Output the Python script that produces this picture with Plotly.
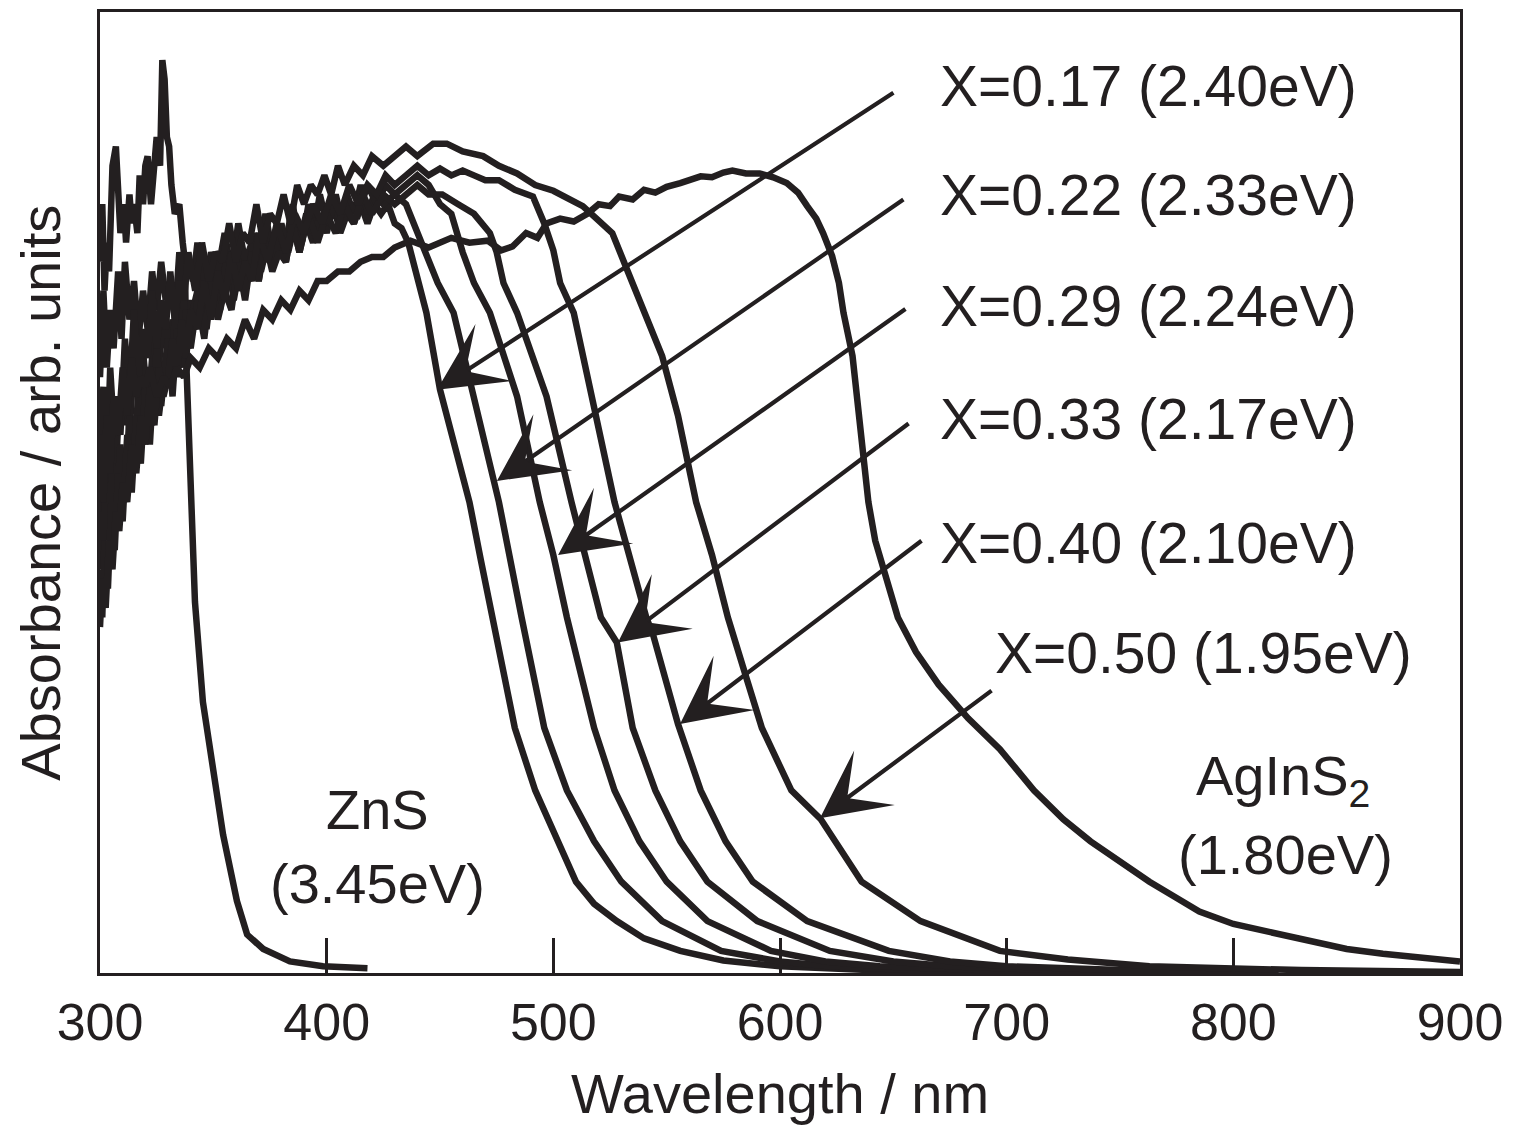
import plotly.graph_objects as go

INK = "#231f20"
FONT = "Liberation Sans, Arial, Helvetica, sans-serif"

# ---------------- data (wavelength nm, absorbance arb. units) ----------------
zns_x = [300, 301, 302, 303, 304, 305.5, 307, 308, 309, 310.5, 311.5, 313, 314, 315, 316.5, 317.5, 319, 320, 321, 322.5,
         323.5, 325, 326.5, 327.5, 328.5, 329.5, 330.5, 331.5, 333, 335, 336.5, 337.5,
         338, 339, 340, 341.9, 345.4, 349.9, 354.3, 360.4, 364.9, 372, 383.8, 398.4, 418]
zns_y = [0.74, 0.80, 0.71, 0.76, 0.73, 0.84, 0.86, 0.79, 0.77, 0.80, 0.76, 0.81, 0.78, 0.80, 0.77, 0.83, 0.80, 0.84, 0.85, 0.80,
         0.83, 0.87, 0.84, 0.95, 0.93, 0.87, 0.86, 0.82, 0.79, 0.80, 0.76, 0.74,
         0.64, 0.57, 0.49, 0.386, 0.282, 0.213, 0.144, 0.075, 0.040, 0.025, 0.012, 0.007, 0.005]

x017_x = [300, 301, 302.5, 304, 305, 307, 308.5, 310, 311.5, 313, 315, 317, 318.5, 320, 322, 324, 326, 328, 330, 332,
          334, 336, 338, 340, 342, 344, 346, 348, 350, 352, 355, 357, 360, 362, 365, 368, 370, 373, 376, 379,
          382, 385, 388, 391, 394, 397, 400, 403, 406, 409, 412, 415, 418, 421, 424, 427, 430, 433, 436, 441,
          444, 450, 455, 463, 468, 473, 478, 483, 492, 502, 510, 518, 528, 540, 556, 575, 600, 640, 700]
x017_y = [0.52, 0.46, 0.55, 0.49, 0.58, 0.52, 0.60, 0.57, 0.63, 0.56, 0.64, 0.60, 0.66, 0.62, 0.61, 0.67, 0.63, 0.69, 0.64, 0.68,
          0.66, 0.71, 0.67, 0.70, 0.68, 0.73, 0.69, 0.72, 0.70, 0.75, 0.71, 0.74, 0.72, 0.76, 0.73, 0.75, 0.72, 0.77, 0.74, 0.76,
          0.74, 0.78, 0.75, 0.78, 0.76, 0.79, 0.77, 0.80, 0.77, 0.79, 0.78, 0.80, 0.78, 0.80, 0.79, 0.80, 0.78, 0.775, 0.76, 0.718,
          0.687, 0.607, 0.56, 0.49, 0.43, 0.37, 0.31, 0.255, 0.19, 0.137, 0.095, 0.072, 0.054, 0.036, 0.023, 0.013, 0.007, 0.003, 0.001]

x022_x = [300, 301.5, 303, 304.5, 306, 308, 309.5, 311, 313, 315, 317, 319, 321, 323, 325, 327, 329, 331, 333, 335,
          337, 339, 341, 343, 346, 349, 352, 355, 358, 361, 364, 367, 370, 373, 376, 379, 382, 385, 388, 391,
          394, 397, 400, 403, 406, 409, 412, 415, 418, 421, 425, 430, 435, 440, 444, 449, 456, 465,
          476, 486, 496, 506, 518, 530, 548, 574, 600, 622, 660, 720]
x022_y = [0.62, 0.71, 0.63, 0.69, 0.65, 0.73, 0.66, 0.74, 0.68, 0.72, 0.66, 0.71, 0.67, 0.73, 0.69, 0.74, 0.70, 0.72, 0.68, 0.75,
          0.71, 0.74, 0.72, 0.76, 0.71, 0.75, 0.73, 0.77, 0.73, 0.78, 0.74, 0.76, 0.74, 0.79, 0.75, 0.77, 0.76, 0.80, 0.76, 0.79,
          0.77, 0.81, 0.78, 0.80, 0.78, 0.81, 0.79, 0.82, 0.79, 0.81, 0.80, 0.81, 0.80, 0.77, 0.75, 0.718, 0.687, 0.60,
          0.49, 0.37, 0.255, 0.19, 0.137, 0.095, 0.054, 0.023, 0.012, 0.007, 0.003, 0.001]

x029_x = [300, 301, 302.5, 304, 305.5, 307, 309, 311, 313, 315, 317, 319, 321, 323, 325, 327, 329, 331, 333, 335,
          337, 339, 341, 344, 347, 350, 353, 356, 359, 362, 365, 368, 371, 374, 377, 380, 383, 386, 389, 392,
          395, 398, 401, 404, 407, 410, 414, 418, 422, 426, 430, 435, 440, 445, 450, 455,
          460, 465, 472, 484, 494, 500, 506, 518, 527, 538, 550, 568, 596, 620, 644, 690, 760]
x029_y = [0.48, 0.42, 0.51, 0.45, 0.53, 0.47, 0.55, 0.50, 0.58, 0.53, 0.61, 0.55, 0.60, 0.57, 0.65, 0.59, 0.64, 0.62, 0.68, 0.63,
          0.70, 0.65, 0.69, 0.72, 0.67, 0.73, 0.69, 0.75, 0.70, 0.74, 0.72, 0.77, 0.73, 0.76, 0.74, 0.78, 0.75, 0.78, 0.76, 0.80,
          0.77, 0.79, 0.78, 0.81, 0.78, 0.80, 0.79, 0.82, 0.80, 0.82, 0.81, 0.82, 0.83, 0.82, 0.80, 0.79,
          0.75, 0.718, 0.687, 0.60, 0.49, 0.435, 0.37, 0.255, 0.19, 0.137, 0.095, 0.054, 0.023, 0.012, 0.007, 0.003, 0.001]

x033_x = [300, 301, 302, 303.5, 305, 306.5, 308, 310, 312, 314, 316, 318, 320, 322, 324, 326, 328, 330, 332, 334,
          336, 338, 340, 343, 346, 349, 352, 355, 358, 361, 364, 367, 370, 373, 376, 379, 382, 385, 388, 392,
          396, 400, 404, 408, 412, 416, 420, 425, 430, 435, 440, 445, 451, 458,
          465, 472, 475, 478, 484, 497, 508, 521, 528, 535, 545, 556, 568, 590, 622, 650, 675, 720, 790]
x033_y = [0.42, 0.37, 0.45, 0.40, 0.49, 0.44, 0.52, 0.47, 0.56, 0.50, 0.58, 0.53, 0.61, 0.55, 0.63, 0.58, 0.62, 0.66, 0.60, 0.67,
          0.63, 0.69, 0.65, 0.70, 0.66, 0.72, 0.68, 0.71, 0.69, 0.74, 0.70, 0.75, 0.72, 0.76, 0.73, 0.75, 0.74, 0.78, 0.75, 0.79,
          0.76, 0.79, 0.77, 0.80, 0.78, 0.81, 0.79, 0.81, 0.80, 0.81, 0.82, 0.81, 0.81, 0.80,
          0.79, 0.77, 0.75, 0.718, 0.687, 0.60, 0.49, 0.37, 0.344, 0.255, 0.19, 0.137, 0.095, 0.054, 0.023, 0.012, 0.007, 0.003, 0.001]

x040_x = [300, 301, 302.5, 304, 305.5, 307, 308.5, 310, 312, 314, 316, 318, 320, 322, 324, 326, 328, 330, 332, 334,
          336, 338, 340, 343, 346, 349, 352, 355, 358, 361, 364, 367, 370, 374, 378, 382, 386, 390, 394, 398,
          402, 406, 410, 414, 418, 422, 426, 430, 435, 440, 445, 450, 455,
          460, 465, 470, 476, 483, 491, 496, 500, 503, 509, 517, 527, 541, 544, 555, 565, 576, 588, 612, 648,
          675, 700, 750, 820]
x040_y = [0.36, 0.41, 0.38, 0.45, 0.42, 0.48, 0.46, 0.51, 0.49, 0.55, 0.52, 0.58, 0.55, 0.61, 0.57, 0.63, 0.60, 0.62, 0.66, 0.62,
          0.68, 0.64, 0.69, 0.67, 0.72, 0.68, 0.73, 0.70, 0.75, 0.71, 0.74, 0.72, 0.77, 0.74, 0.78, 0.75, 0.79, 0.77, 0.80, 0.78,
          0.81, 0.79, 0.82, 0.80, 0.82, 0.81, 0.83, 0.82, 0.83, 0.84, 0.83, 0.837, 0.83,
          0.835, 0.83, 0.825, 0.825, 0.815, 0.808, 0.78, 0.752, 0.718, 0.687, 0.60, 0.49, 0.37, 0.352, 0.259, 0.19, 0.137, 0.095, 0.054, 0.023,
          0.012, 0.007, 0.003, 0.001]

x050_x = [300, 301.5, 303, 304.5, 306, 307.5, 309, 311, 313, 315, 317, 319, 321, 323, 325, 327, 329, 331, 333, 335,
          337, 339, 342, 345, 348, 351, 354, 357, 360, 363, 366, 369, 372, 375, 378, 381, 384, 387, 390, 393,
          396, 399, 402, 405, 408, 412, 416, 420, 425, 430, 435, 440, 447, 453, 460,
          469, 476, 484, 492, 500, 507, 513, 520, 526, 532, 540, 548, 555, 563, 570, 577, 584, 592, 605, 618,
          636, 662, 697, 727, 763, 830, 900]
x050_y = [0.55, 0.61, 0.52, 0.63, 0.57, 0.60, 0.56, 0.66, 0.60, 0.69, 0.62, 0.67, 0.64, 0.71, 0.65, 0.70, 0.67, 0.73, 0.68, 0.72,
          0.70, 0.75, 0.71, 0.76, 0.72, 0.75, 0.74, 0.78, 0.74, 0.77, 0.76, 0.80, 0.76, 0.79, 0.78, 0.81, 0.78, 0.82, 0.80, 0.82,
          0.81, 0.83, 0.81, 0.84, 0.82, 0.84, 0.83, 0.85, 0.84, 0.85, 0.86, 0.85, 0.863, 0.863, 0.855,
          0.85, 0.84, 0.832, 0.82, 0.814, 0.805, 0.798, 0.783, 0.77, 0.735, 0.687, 0.642, 0.58, 0.49, 0.435, 0.37, 0.316, 0.255, 0.19, 0.16,
          0.095, 0.054, 0.023, 0.014, 0.007, 0.003, 0.001]

agins_x = [300, 301.5, 303, 304.5, 306, 308, 310, 312, 314, 316, 318, 320, 322, 325, 328, 331, 334, 337, 340, 344,
           348, 352, 356, 360, 364, 368, 372, 376, 380, 384, 388, 392, 396, 400, 405, 410, 415, 420, 425, 430,
           437, 445, 455, 463, 471, 477, 482, 488, 493, 497, 503, 509, 515, 520, 525, 529, 535, 540, 545, 550,
           556, 560, 565, 570, 575, 579, 585, 591, 597, 603, 608, 612, 616, 619, 623, 626, 628, 632, 635, 639,
           642, 646, 652, 660, 670, 683, 697, 712, 725, 737, 750, 763, 775, 785, 800, 815, 829, 850, 866, 885, 900]
agins_y = [0.56, 0.49, 0.58, 0.52, 0.60, 0.56, 0.63, 0.58, 0.64, 0.60, 0.62, 0.61, 0.63, 0.60, 0.62, 0.61, 0.63, 0.62, 0.64, 0.63,
           0.65, 0.64, 0.66, 0.65, 0.68, 0.66, 0.69, 0.68, 0.70, 0.69, 0.71, 0.70, 0.72, 0.72, 0.73, 0.73, 0.74, 0.745, 0.745, 0.755,
           0.762, 0.755, 0.765, 0.76, 0.762, 0.752, 0.756, 0.77, 0.765, 0.78, 0.785, 0.782, 0.79, 0.80, 0.798, 0.808, 0.805, 0.815, 0.812, 0.818,
           0.822, 0.825, 0.829, 0.828, 0.833, 0.835, 0.832, 0.832, 0.828, 0.822, 0.812, 0.798, 0.785, 0.77, 0.746, 0.718, 0.687, 0.642, 0.573, 0.49,
           0.45, 0.42, 0.37, 0.334, 0.30, 0.265, 0.233, 0.19, 0.16, 0.137, 0.115, 0.095, 0.078, 0.064, 0.051, 0.043, 0.036, 0.025, 0.020, 0.015, 0.012]

series = [
    ("ZnS", zns_x, zns_y),
    ("X=0.17", x017_x, x017_y),
    ("X=0.22", x022_x, x022_y),
    ("X=0.29", x029_x, x029_y),
    ("X=0.33", x033_x, x033_y),
    ("X=0.40", x040_x, x040_y),
    ("X=0.50", x050_x, x050_y),
    ("AgInS2", agins_x, agins_y),
]

# labels and arrows (tail -> head), data coordinates
label_texts = ["X=0.17 (2.40eV)", "X=0.22 (2.33eV)", "X=0.29 (2.24eV)",
               "X=0.33 (2.17eV)", "X=0.40 (2.10eV)", "X=0.50 (1.95eV)"]
label_x = [669.5, 669.5, 669.5, 669.5, 669.5, 693.8]
label_y = [0.923, 0.810, 0.694, 0.577, 0.447, 0.333]
arrow_tail_x = [650.7, 655.1, 656.0, 657.4, 663.1, 694.0]
arrow_tail_y = [0.917, 0.806, 0.692, 0.573, 0.451, 0.295]
arrow_head_x = [448.7, 475.1, 502.1, 528.5, 555.9, 617.6]
arrow_head_y = [0.607, 0.512, 0.435, 0.344, 0.259, 0.161]

x_ticks = [300, 400, 500, 600, 700, 800, 900]

fig = go.Figure()
for name, xs, ys in series:
    fig.add_trace(go.Scatter(x=xs, y=ys, mode="lines", name=name,
                             line=dict(color=INK, width=6.5), showlegend=False))

annotations = []
for t, lx, ly in zip(label_texts, label_x, label_y):
    annotations.append(dict(x=lx, y=ly, xref="x", yref="y", text=t, showarrow=False,
                            xanchor="left", yanchor="middle",
                            font=dict(family=FONT, size=57, color=INK)))
for tx, ty, hx, hy in zip(arrow_tail_x, arrow_tail_y, arrow_head_x, arrow_head_y):
    annotations.append(dict(x=hx, y=hy, xref="x", yref="y", ax=tx, ay=ty, axref="x", ayref="y",
                            text="", showarrow=True, arrowhead=3, arrowsize=2.7, arrowwidth=4.2,
                            arrowcolor=INK, standoff=0, startstandoff=0))

for t, lx, ly in [("ZnS", 422.6, 0.170), ("(3.45eV)", 422.6, 0.093),
                  ("AgInS<sub>2</sub>", 821.9, 0.201), ("(1.80eV)", 822.8, 0.123)]:
    annotations.append(dict(x=lx, y=ly, xref="x", yref="y", text=t, showarrow=False,
                            xanchor="center", yanchor="middle",
                            font=dict(family=FONT, size=56, color=INK)))

annotations.append(dict(x=0.5, y=-0.1255, xref="paper", yref="paper", text="Wavelength / nm",
                        showarrow=False, xanchor="center", yanchor="middle",
                        font=dict(family=FONT, size=56, color=INK)))
annotations.append(dict(x=-0.044, y=0.5, xref="paper", yref="paper", text="Absorbance / arb. units",
                        showarrow=False, xanchor="center", yanchor="middle", textangle=-90,
                        font=dict(family=FONT, size=56, color=INK)))

fig.update_layout(
    width=1508, height=1120,
    margin=dict(l=92, r=56, t=1, b=155),
    paper_bgcolor="white", plot_bgcolor="white",
    annotations=annotations,
    xaxis=dict(range=[300, 900], tickvals=x_ticks, ticktext=[str(v) for v in x_ticks],
               ticks="inside", ticklen=35, tickwidth=2.5, tickcolor=INK,
               showline=True, linewidth=3, linecolor=INK, mirror=True,
               showgrid=False, zeroline=False, ticklabelstandoff=2,
               tickfont=dict(family=FONT, size=52, color=INK)),
    yaxis=dict(range=[0, 1], showticklabels=False, ticks="",
               showline=True, linewidth=3, linecolor=INK, mirror=True,
               showgrid=False, zeroline=False),
)

fig.write_html("out.html")
